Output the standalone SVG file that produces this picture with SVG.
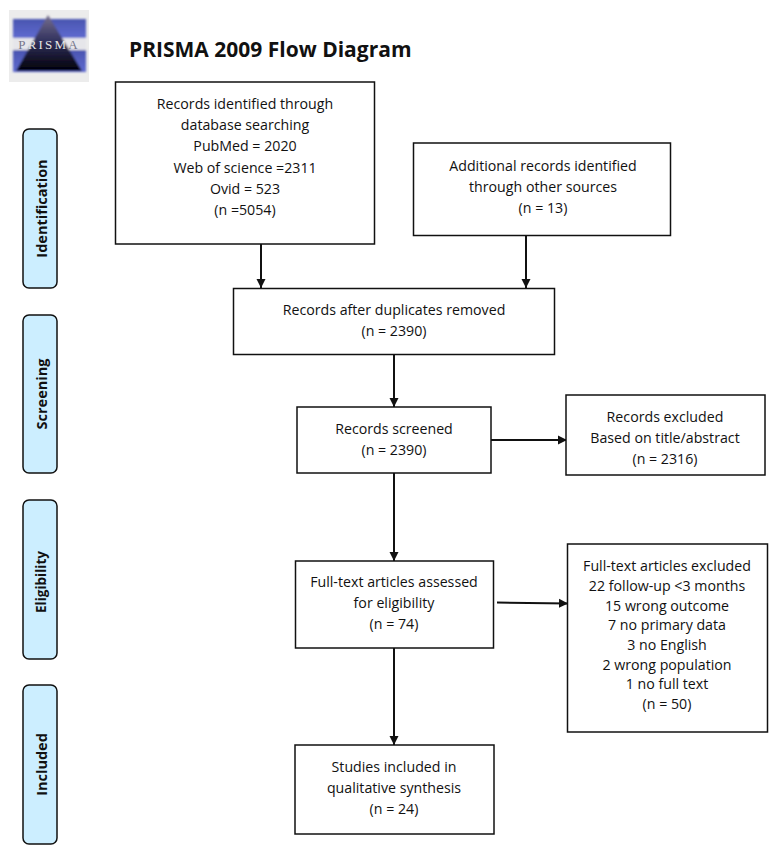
<svg xmlns="http://www.w3.org/2000/svg" width="776" height="852" viewBox="0 0 776 852">
<style>
.box{fill:#fff;stroke:#111;stroke-width:1.5}
.side{fill:#cceeff;stroke:#111;stroke-width:1.5}
text{font-family:"Open Sans","Noto Sans","Liberation Sans",sans-serif;fill:#111}
.t{font-size:14.2px;text-anchor:middle}
.s{font-size:14.5px;font-weight:700;text-anchor:middle}
.c{fill:none;stroke:#111;stroke-width:2}
</style>
<defs>
<marker id="a" markerUnits="userSpaceOnUse" markerWidth="10" markerHeight="10" refX="9" refY="5" orient="auto"><path d="M0 0.5L9 5L0 9.500Z" fill="#111"/></marker>
<linearGradient id="g" x1="0" y1="0" x2="0" y2="1"><stop offset="0" stop-color="#77708f"/><stop offset="0.45" stop-color="#34335f"/><stop offset="1" stop-color="#000008"/></linearGradient>
<linearGradient id="b" x1="0" y1="0" x2="0" y2="1"><stop offset="0" stop-color="#4a55b0"/><stop offset="1" stop-color="#5f6bd0"/></linearGradient>
<filter id="f" x="-10%" y="-10%" width="120%" height="120%"><feGaussianBlur stdDeviation="0.8"/></filter>
</defs>
<g id="logo">
<rect x="9" y="10" width="80" height="72" fill="#ececec"/>
<g filter="url(#f)">
<rect x="13" y="19" width="73" height="19" fill="url(#b)"/>
<rect x="13" y="50" width="73" height="22" fill="url(#b)"/>
<rect x="13" y="38" width="73" height="12" fill="#e6e6ea"/>
<path d="M48 15L82 71H16Z" fill="url(#g)"/>
</g>
<text x="49" y="49" font-size="13" text-anchor="middle" style="font-family:'Liberation Serif',serif;fill:#e4e4e4" letter-spacing="2.200"><tspan style="fill:#77778a">P</tspan>RISM<tspan style="fill:#77778a">A</tspan></text>
</g>
<text id="title" x="129" y="56.500" font-size="21" font-weight="700">PRISMA 2009 Flow Diagram</text>
<g id="connectors">
<path class="c" marker-end="url(#a)" d="M261 244V288"/>
<path class="c" marker-end="url(#a)" d="M526 236V288"/>
<path class="c" marker-end="url(#a)" d="M394 355V407"/>
<path class="c" marker-end="url(#a)" d="M491 440H567"/>
<path class="c" marker-end="url(#a)" d="M394 473V561"/>
<path class="c" marker-end="url(#a)" d="M497 602.500L568 603.500"/>
<path class="c" marker-end="url(#a)" d="M394 648V745"/>
</g>
<g id="identification"><rect class="side" x="23" y="129" width="34" height="159" rx="6"/><text class="s" transform="translate(47 208.500) rotate(-90)">Identification</text></g>
<g id="screening"><rect class="side" x="23" y="315" width="34" height="158" rx="6"/><text class="s" transform="translate(47 394) rotate(-90)">Screening</text></g>
<g id="eligibility"><rect class="side" x="23" y="500" width="34" height="159" rx="6"/><text class="s" style="font-size:13.500px" transform="translate(46 582) rotate(-90)">Eligibility</text></g>
<g id="included"><rect class="side" x="23" y="685" width="34" height="159" rx="6"/><text class="s" transform="translate(47 764.500) rotate(-90)">Included</text></g>
<g id="n1"><rect class="box" x="115.500" y="82" width="259" height="162"/>
<text class="t" x="245" y="109">Records identified through</text><text class="t" x="245" y="130">database searching</text><text class="t" x="245" y="151">PubMed = 2020</text><text class="t" x="245" y="173">Web of science =2311</text><text class="t" x="245" y="194">Ovid = 523</text><text class="t" x="245" y="215">(n =5054)</text></g>
<g id="n2"><rect class="box" x="413.500" y="143" width="257" height="92.500"/>
<text class="t" x="543" y="171">Additional records identified</text><text class="t" x="543" y="192">through other sources</text><text class="t" x="543" y="213">(n = 13)</text></g>
<g id="n3"><rect class="box" x="233.500" y="288.500" width="321" height="66"/>
<text class="t" x="394" y="315">Records after duplicates removed</text><text class="t" x="394" y="336">(n = 2390)</text></g>
<g id="n4"><rect class="box" x="297" y="407" width="194" height="66"/>
<text class="t" x="394" y="434">Records screened</text><text class="t" x="394" y="455">(n = 2390)</text></g>
<g id="n5"><rect class="box" x="566" y="395" width="199" height="80"/>
<text class="t" x="665" y="422">Records excluded</text><text class="t" x="665" y="443">Based on title/abstract</text><text class="t" x="665" y="464">(n = 2316)</text></g>
<g id="n6"><rect class="box" x="295.500" y="561" width="198" height="87"/>
<text class="t" x="394" y="587">Full-text articles assessed</text><text class="t" x="394" y="608">for eligibility</text><text class="t" x="394" y="629">(n = 74)</text></g>
<g id="n7"><rect class="box" x="567.500" y="544" width="200" height="188"/>
<text class="t" x="667" y="571">Full-text articles excluded</text><text class="t" x="667" y="591">22 follow-up &lt;3 months</text><text class="t" x="667" y="611">15 wrong outcome</text><text class="t" x="667" y="630">7 no primary data</text><text class="t" x="667" y="650">3 no English</text><text class="t" x="667" y="670">2 wrong population</text><text class="t" x="667" y="689">1 no full text</text><text class="t" x="667" y="709">(n = 50)</text></g>
<g id="n8"><rect class="box" x="295" y="745" width="199" height="89"/>
<text class="t" x="394" y="772">Studies included in</text><text class="t" x="394" y="793">qualitative synthesis</text><text class="t" x="394" y="814">(n = 24)</text></g>
</svg>
